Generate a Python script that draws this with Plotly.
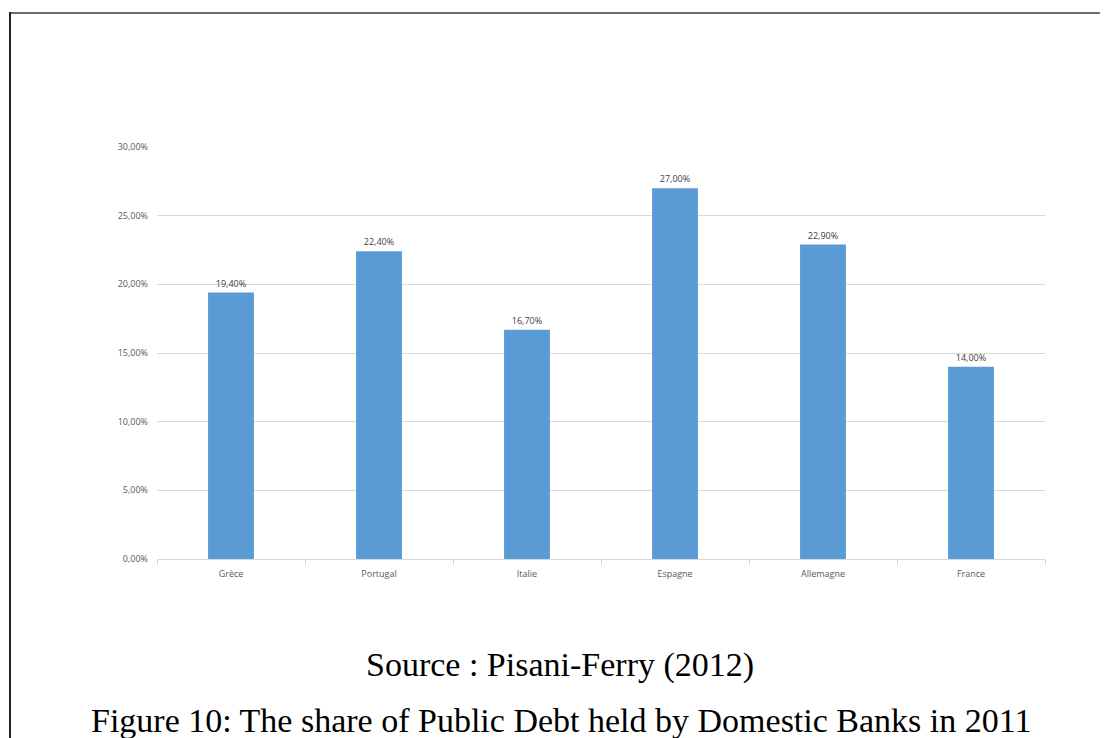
import plotly.graph_objects as go

# Data
countries = ["Grèce", "Portugal", "Italie", "Espagne", "Allemagne", "France"]
share = [0.194, 0.224, 0.167, 0.270, 0.229, 0.140]
y_ticks = [0, 0.05, 0.10, 0.15, 0.20, 0.25, 0.30]

# the page adds an 8px body margin, so work in page pixels minus 8
OFF = 8
W, H = 1108 - OFF, 738 - OFF
L, R, T, B = 157 - OFF, 1045 - OFF, 147 - OFF, 559 - OFF
pw, ph = R - L, B - T


def px_x(x):
    return (x - OFF - L) / pw


def px_y(y):
    return (B - (y - OFF)) / ph


fig = go.Figure()
fig.add_bar(
    x=countries,
    y=share,
    marker_color="#5b9bd5",
    marker_line_width=0,
    text=share,
    texttemplate="%{y:.2%}",
    textposition="outside",
    textfont=dict(family="Open Sans", size=9, color="#404040"),
    cliponaxis=False,
)

fig.update_layout(
    width=W,
    height=H,
    margin=dict(l=L, r=W - R, t=T, b=H - B),
    paper_bgcolor="white",
    plot_bgcolor="white",
    separators=", ",
    bargap=0.69,
    showlegend=False,
    font=dict(family="Open Sans", size=9, color="#595959"),
)

fig.update_yaxes(
    range=[0, 0.30],
    tickvals=y_ticks,
    tickformat=".2%",
    showgrid=True,
    gridcolor="#d9d9d9",
    gridwidth=1,
    zeroline=False,
    showline=False,
    ticks="",
    ticklabelstandoff=8,
    tickfont=dict(family="Open Sans", size=9, color="#595959"),
)

fig.update_xaxes(
    showline=True,
    linecolor="#d9d9d9",
    linewidth=1,
    ticks="outside",
    tickson="boundaries",
    ticklen=5,
    tickcolor="#d9d9d9",
    ticklabelstandoff=6,
    showgrid=False,
    tickfont=dict(family="Open Sans", size=9, color="#595959"),
)

# page border (top and left)
fig.add_shape(type="line", xref="paper", yref="paper",
              x0=px_x(9), x1=px_x(1108), y0=px_y(13), y1=px_y(13),
              line=dict(color="#6e6e6e", width=2))
fig.add_shape(type="line", xref="paper", yref="paper",
              x0=px_x(10), x1=px_x(10), y0=px_y(12), y1=px_y(738),
              line=dict(color="#222222", width=2))

# captions
fig.add_annotation(xref="paper", yref="paper", x=px_x(560), y=px_y(665),
                   text="Source : Pisani-Ferry (2012)", showarrow=False,
                   xanchor="center", yanchor="middle",
                   font=dict(family="Liberation Serif", size=34, color="black"))
fig.add_annotation(xref="paper", yref="paper", x=px_x(561), y=px_y(720),
                   text="Figure 10: The share of Public Debt held by Domestic Banks in 2011",
                   showarrow=False, xanchor="center", yanchor="middle",
                   font=dict(family="Liberation Serif", size=34, color="black"))

fig.write_html("out.html")
